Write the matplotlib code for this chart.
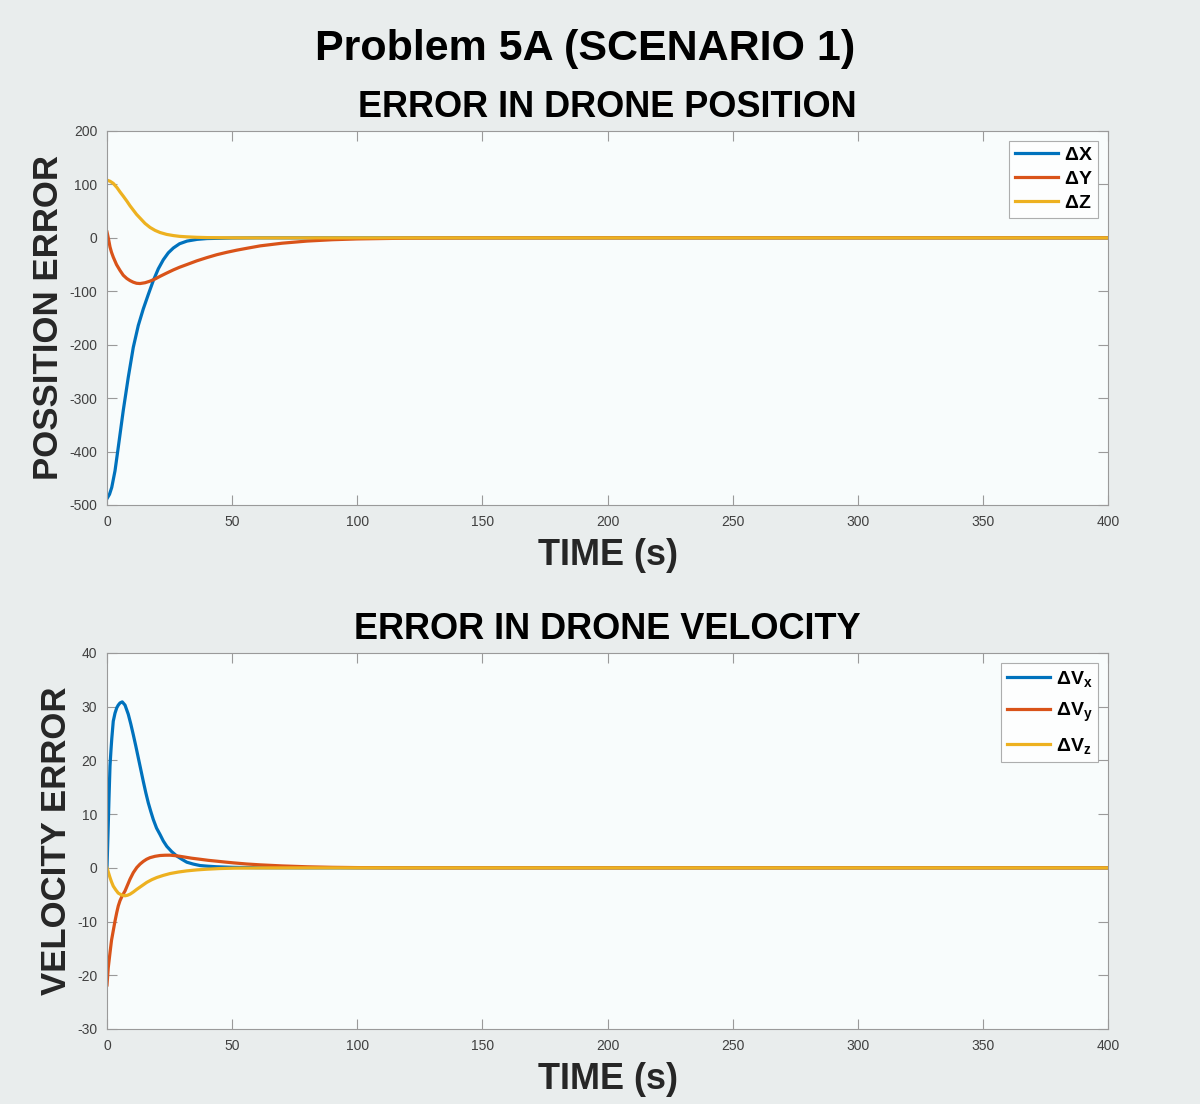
import numpy as np
import matplotlib.pyplot as plt

# values (time in s)
t_dx = [0, 1, 1.9, 3.2, 4.5, 6.5, 8.5, 10.5, 12.5, 14.5, 16.5, 18.5, 20.5, 22.5, 24.5, 26.5, 29, 32, 36, 40, 50, 60, 400]
dx = [-488, -480, -467, -436, -392, -323, -261, -205, -164, -133, -106, -80, -58, -41, -28, -19, -11, -6, -2.8, -1.3, -0.3, 0, 0]
t_dy = [0, 0.6, 1.2, 1.8, 2.5, 3.8, 5.2, 6.5, 7.9, 9.2, 10.5, 11.8, 13.2, 15.2, 17.2, 19.2, 21.2, 23.8, 26.5, 29, 31.9,
        35.9, 39.9, 43.9, 47.9, 51.9, 55.9, 61.2, 70, 80, 90, 100, 120, 150, 200, 400]
dy = [11, -2, -17, -27, -36, -50, -61, -70, -76, -80, -83, -85, -85.5, -84, -81, -77, -72, -66, -60, -55, -50,
      -43, -37, -31.5, -27, -23, -19.5, -15, -10, -6, -3.5, -2, -0.6, -0.1, 0, 0]
t_dz = [0, 1.2, 2.5, 4, 5.2, 6.5, 7.9, 9.2, 10.5, 11.8, 13.2, 15.2, 17.2, 19.2, 21.2, 23.8, 26.5, 29, 31.9, 36, 40, 50, 60, 400]
dz = [108, 106, 102, 94, 86, 78, 69, 60, 52, 44, 37, 27, 19.5, 14, 10, 6.5, 4.3, 2.8, 1.9, 1.0, 0.5, 0.1, 0, 0]

t_dvx = [0, 0.25, 0.5, 0.8, 1.2, 1.6, 1.9, 2.5, 3.2, 3.9, 4.5, 5.2, 6.1, 7.2, 8.5, 9.5, 10.5, 11.5, 12.5, 13.5, 14.5,
         15.5, 16.5, 17.5, 18.5, 19.8, 21.2, 22.5, 23.9, 25.9, 27.9, 29.9, 31.9, 34.5, 37.2, 40.5, 43.9, 50, 60, 80, 400]
dvx = [0, 4, 8, 13, 19, 22, 24, 27.3, 28.8, 29.8, 30.3, 30.7, 30.9, 30.3, 28.6, 26.8, 24.8, 22.7, 20.5, 18.3, 16.1,
       14.0, 12.1, 10.5, 9.0, 7.4, 6.2, 5.0, 4.0, 3.0, 2.2, 1.6, 1.05, 0.7, 0.43, 0.3, 0.2, 0.1, 0.03, 0, 0]
t_dvy = [0, 0.5, 1.2, 1.8, 2.5, 3.2, 3.9, 4.5, 5.2, 6.2, 7.2, 8.2, 9.2, 10.5, 11.9, 13.2, 14.5, 15.8, 17.2, 19.2, 21.2,
         23.2, 25.2, 27.8, 30.5, 33.8, 37.2, 40.5, 43.9, 47.2, 50.5, 55.8, 61.2, 70, 80, 90, 100, 120, 400]
dvy = [-21.8, -18.6, -15.8, -13.5, -11.7, -9.9, -8.3, -7.1, -6.1, -5.1, -4.3, -3.2, -2.1, -0.9, 0.06, 0.7, 1.2, 1.6, 1.9,
       2.15, 2.3, 2.35, 2.36, 2.25, 2.05, 1.8, 1.6, 1.4, 1.24, 1.08, 0.93, 0.72, 0.56, 0.36, 0.2, 0.1, 0.05, 0, 0]
t_dvz = [0, 0.6, 1.2, 1.8, 2.5, 3.5, 4.5, 5.8, 7.2, 8.2, 9.2, 10.5, 11.9, 13.9, 15.9, 17.9, 19.9, 22.5, 25.2, 28.5, 31.9,
         35.9, 39.9, 45, 50.5, 60, 80, 400]
dvz = [0, -0.9, -1.8, -2.6, -3.4, -4.1, -4.7, -5.05, -5.2, -5.1, -4.9, -4.5, -4.0, -3.35, -2.7, -2.2, -1.8, -1.4, -1.06,
       -0.78, -0.56, -0.38, -0.25, -0.13, -0.06, -0.02, 0, 0]

colors = ['#0072BD', '#D95319', '#EDB120']
pos_labels = [r'$\mathbf{\Delta X}$', r'$\mathbf{\Delta Y}$', r'$\mathbf{\Delta Z}$']
vel_labels = [r'$\mathbf{\Delta V_x}$', r'$\mathbf{\Delta V_y}$', r'$\mathbf{\Delta V_z}$']

plt.rcParams['font.family'] = ['Liberation Sans', 'DejaVu Sans']
plt.rcParams['mathtext.fontset'] = 'custom'
plt.rcParams['mathtext.bf'] = 'Liberation Sans:bold'
plt.rcParams['mathtext.rm'] = 'Liberation Sans'
plt.rcParams['axes.unicode_minus'] = False

fig = plt.figure(figsize=(12, 11.04), dpi=100, facecolor='#e9eded')
W, H = 1200, 1104
ax1 = fig.add_axes([107 / W, 1 - 505 / H, 1001 / W, 374 / H])
ax2 = fig.add_axes([107 / W, 1 - 1029 / H, 1001 / W, 376 / H])

def style(ax, ylim, yticks, title, ylabel):
    ax.set_facecolor('#f8fcfc')
    ax.set_xlim(0, 400)
    ax.set_ylim(*ylim)
    ax.set_xticks(np.arange(0, 401, 50))
    ax.set_yticks(yticks)
    ax.tick_params(direction='in', top=True, right=True, length=7, width=0.8,
                   colors='#9a9a9a', labelcolor='#404040', labelsize=10, pad=7)
    for s in ax.spines.values():
        s.set_color('#9a9a9a')
        s.set_linewidth(0.8)
    ax.set_title(title, fontsize=26, fontweight='bold', pad=10)
    ax.set_xlabel('TIME (s)', fontsize=26, fontweight='bold', color='#262626', labelpad=7)
    ax.set_ylabel(ylabel, fontsize=25, fontweight='bold', color='#262626', labelpad=3)

for t, y, c, lab in zip([t_dx, t_dy, t_dz], [dx, dy, dz], colors, pos_labels):
    ax1.plot(t, y, color=c, lw=2.3, label=lab)
style(ax1, (-500, 200), np.arange(-500, 201, 100), 'ERROR IN DRONE POSITION', 'POSSITION ERROR')

for t, y, c, lab in zip([t_dvx, t_dvy, t_dvz], [dvx, dvy, dvz], colors, vel_labels):
    ax2.plot(t, y, color=c, lw=2.3, label=lab)
style(ax2, (-30, 40), np.arange(-30, 41, 10), 'ERROR IN DRONE VELOCITY', 'VELOCITY ERROR')

for ax, sp in ((ax1, 0.32), (ax2, 0.62)):
    leg = ax.legend(loc='upper right', fontsize=14, frameon=True, fancybox=False,
                    handlelength=2.2, handletextpad=0.3, borderaxespad=0.5,
                    labelspacing=sp, borderpad=0.3)
    leg.get_frame().set_edgecolor('#9a9a9a')
    leg.get_frame().set_facecolor('white')
    leg.get_frame().set_linewidth(0.8)

fig.text(585 / W, 1 - 49 / H, 'Problem 5A (SCENARIO 1)', fontsize=31, fontweight='bold',
         ha='center', va='center')

fig.savefig('out.png', dpi=100, facecolor=fig.get_facecolor())
